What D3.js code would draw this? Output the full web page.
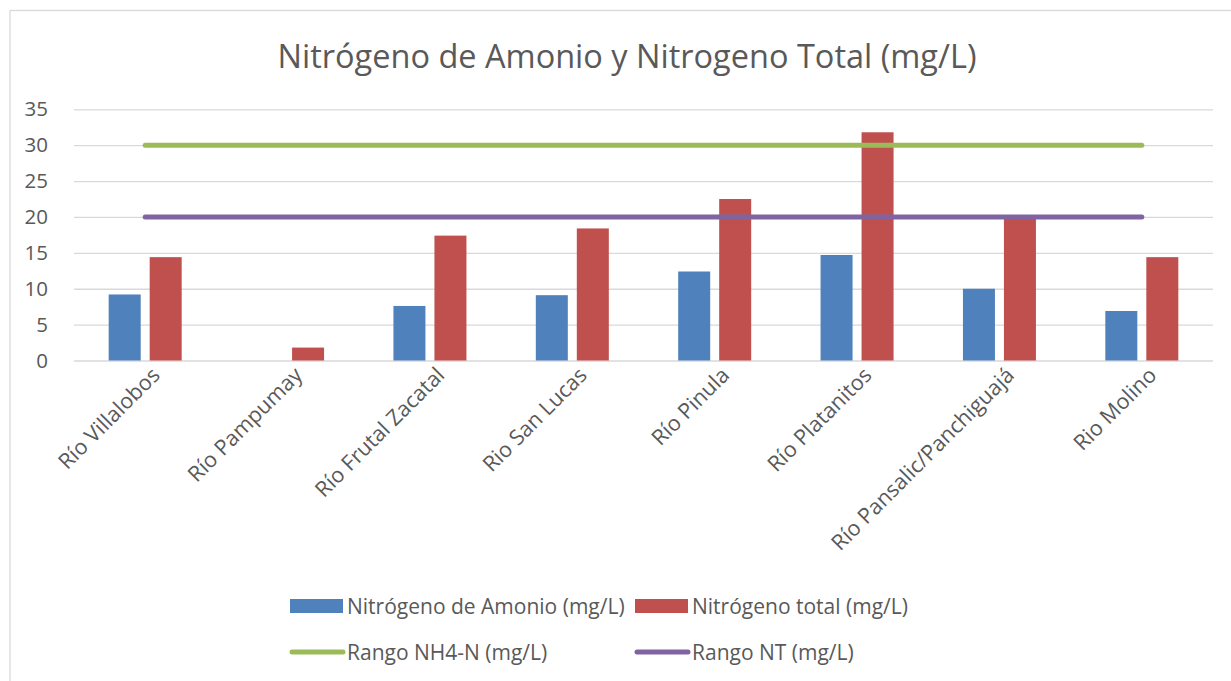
<!DOCTYPE html>
<html>
<head>
<meta charset="utf-8">
<script src="https://cdn.jsdelivr.net/npm/d3@7"></script>
<style>
    body { margin: 0; background: #ffffff; }
    text { font-family: "Open Sans", sans-serif; fill: #595959; }
</style>
</head>
<body>
<div id="chart"></div>
<script>
// DATA
// ----------------------------------------
const CATEGORIES = ["Río Villalobos", "Río Pampumay", "Río Frutal Zacatal", "Rio San Lucas",
    "Río Pinula", "Río Platanitos", "Río Pansalic/Panchiguajá", "Rio Molino"];
const AMONIO = [9.2, 0, 7.6, 9.1, 12.4, 14.7, 10.0, 6.9];
const TOTAL = [14.4, 1.8, 17.4, 18.4, 22.5, 31.8, 19.8, 14.4];
const RANGO_NH4 = [30, 30, 30, 30, 30, 30, 30, 30];
const RANGO_NT = [20, 20, 20, 20, 20, 20, 20, 20];
const Y_TICKS = [0, 5, 10, 15, 20, 25, 30, 35];

const TITLE = "Nitrógeno de Amonio y Nitrogeno Total (mg/L)";
const BAR_SERIES = ["Nitrógeno de Amonio (mg/L)", "Nitrógeno total (mg/L)"];
const LINE_SERIES = ["Rango NH4-N (mg/L)", "Rango NT (mg/L)"];

// STYLE
// ----------------------------------------
const COLOR_BLUE = "#4F81BD";
const COLOR_RED = "#C0504D";
const COLOR_GREEN = "#9BBB59";
const COLOR_PURPLE = "#8064A2";
const COLOR_GRID = "#D9D9D9";

const WIDTH = 1231;
const HEIGHT = 681;
const PLOT = { left: 74, right: 1213, top: 109.3, bottom: 360.5 };

// MAIN
// ----------------------------------------
function drawChart() {
    const svg = d3.select("#chart").append("svg")
        .attr("width", WIDTH)
        .attr("height", HEIGHT);

    // chart area border
    svg.append("rect")
        .attr("x", 10).attr("y", 10.5)
        .attr("width", WIDTH + 20).attr("height", HEIGHT + 20)
        .attr("fill", "none")
        .attr("stroke", COLOR_GRID)
        .attr("stroke-width", 1.3);

    svg.append("text")
        .attr("x", 627).attr("y", 68)
        .attr("text-anchor", "middle")
        .style("font-size", "32.5px")
        .text(TITLE);

    const x0 = d3.scaleBand()
        .domain(CATEGORIES)
        .range([PLOT.left, PLOT.right])
        .padding(0);

    const y = d3.scaleLinear()
        .domain([0, 35])
        .range([PLOT.bottom, PLOT.top]);

    // gridlines + y labels
    const yAxis = d3.axisLeft(y)
        .tickValues(Y_TICKS)
        .tickSize(-(PLOT.right - PLOT.left))
        .tickPadding(26);

    svg.append("g")
        .attr("transform", `translate(${PLOT.left},0)`)
        .call(yAxis)
        .call(g => g.select(".domain").remove())
        .call(g => g.selectAll("line").attr("stroke", COLOR_GRID).attr("stroke-width", 1.3))
        .call(g => g.selectAll("text").style("font-size", "20.5px").attr("fill", "#595959"));

    // bars
    const barW = 32;
    const gap = 9;
    const groups = svg.append("g").selectAll("g")
        .data(CATEGORIES)
        .join("g")
        .attr("transform", d => `translate(${x0(d) + x0.bandwidth() / 2},0)`);

    groups.append("rect")
        .attr("x", -barW - gap / 2)
        .attr("width", barW)
        .attr("y", (d, i) => y(AMONIO[i]))
        .attr("height", (d, i) => y(0) - y(AMONIO[i]))
        .attr("fill", COLOR_BLUE);

    groups.append("rect")
        .attr("x", gap / 2)
        .attr("width", barW)
        .attr("y", (d, i) => y(TOTAL[i]))
        .attr("height", (d, i) => y(0) - y(TOTAL[i]))
        .attr("fill", COLOR_RED);

    // range lines
    const line = d3.line()
        .x((d, i) => x0(CATEGORIES[i]) + x0.bandwidth() / 2)
        .y(d => y(d));

    [[RANGO_NH4, COLOR_GREEN], [RANGO_NT, COLOR_PURPLE]].forEach(([vals, color]) => {
        svg.append("path")
            .datum(vals)
            .attr("d", line)
            .attr("fill", "none")
            .attr("stroke", color)
            .attr("stroke-width", 5)
            .attr("stroke-linecap", "round");
    });

    // category labels (rotated)
    svg.append("g").selectAll("text")
        .data(CATEGORIES)
        .join("text")
        .attr("text-anchor", "end")
        .attr("transform", d => `translate(${x0(d) + x0.bandwidth() / 2 + 16},${PLOT.bottom + 16}) rotate(-45)`)
        .style("font-size", "21.5px")
        .text(d => d);

    // legend
    const legend = svg.append("g");
    const barItems = [
        { label: BAR_SERIES[0], color: COLOR_BLUE, x: 290 },
        { label: BAR_SERIES[1], color: COLOR_RED, x: 635 }
    ];
    barItems.forEach(item => {
        legend.append("rect")
            .attr("x", item.x).attr("y", 599)
            .attr("width", 53).attr("height", 14)
            .attr("fill", item.color);
        legend.append("text")
            .attr("x", item.x + 57).attr("y", 614)
            .style("font-size", "21px")
            .text(item.label);
    });
    const lineItems = [
        { label: LINE_SERIES[0], color: COLOR_GREEN, x: 290 },
        { label: LINE_SERIES[1], color: COLOR_PURPLE, x: 635 }
    ];
    lineItems.forEach(item => {
        legend.append("line")
            .attr("x1", item.x + 2).attr("x2", item.x + 53)
            .attr("y1", 652).attr("y2", 652)
            .attr("stroke", item.color)
            .attr("stroke-width", 5)
            .attr("stroke-linecap", "round");
        legend.append("text")
            .attr("x", item.x + 57).attr("y", 660)
            .style("font-size", "21px")
            .text(item.label);
    });
}

drawChart();
</script>
</body>
</html>
